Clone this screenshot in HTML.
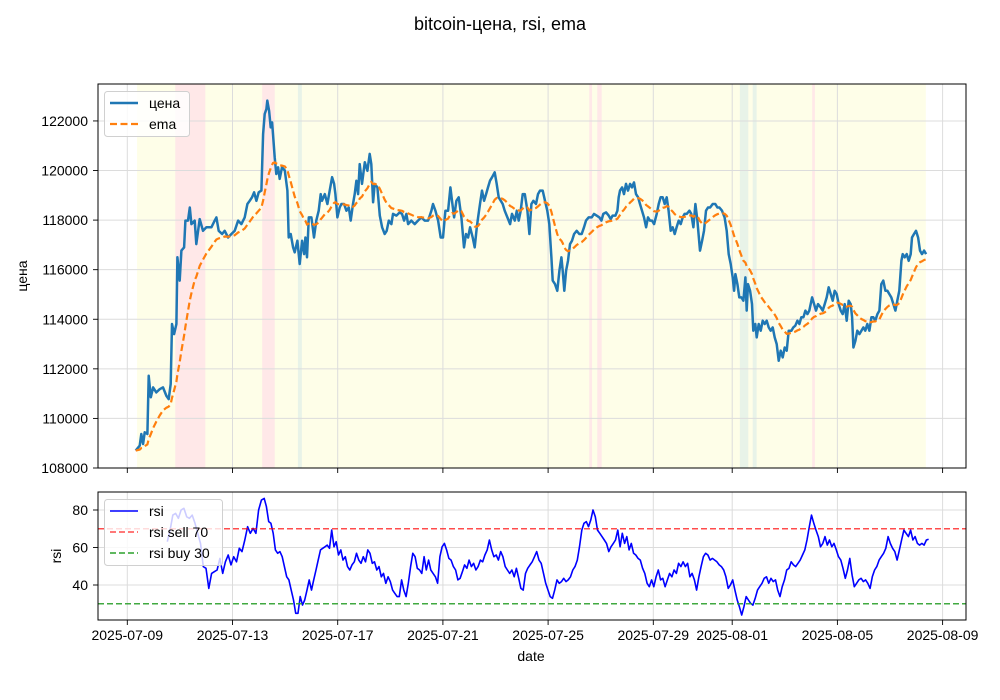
<!DOCTYPE html>
<html><head><meta charset="utf-8"><style>
html,body{margin:0;padding:0;background:#fff;}
svg{display:block;font-family:"Liberation Sans","DejaVu Sans",sans-serif;}
</style></head><body>
<svg id="fig" width="1000" height="700" viewBox="0 0 1000 700" xmlns="http://www.w3.org/2000/svg">
<defs>
<clipPath id="c1"><rect x="98" y="84" width="868" height="384"/></clipPath>
<clipPath id="c2"><rect x="98" y="492" width="868" height="128"/></clipPath>
</defs>
<text x="500" y="30" font-size="18" text-anchor="middle">bitcoin-цена, rsi, ema</text>
<g id="topPanel"></g>
<g id="botPanel"></g>
<text x="27" y="276" font-size="14" text-anchor="middle" transform="rotate(-90 27 276)">цена</text>
<text x="61" y="556" font-size="14" text-anchor="middle" transform="rotate(-90 61 556)">rsi</text>
<text x="531" y="661" font-size="14" text-anchor="middle">date</text>
</svg>
<script>
// hours since 2025-07-09 00:00
const priceHours=[7.7,11.3,12.8,14.4,15.9,18.3,19.5,21.4,23.5,26.5,29.6,32.6,35.7,37.8,39.6,40.8,42.7,44.8,45.7,47.8,49.4,51.8,53.0,55.4,57.0,58.5,61.5,63.0,66.1,69.1,72.2,76.7,79.8,81.3,83.4,86.5,88.9,92.0,95.0,98.0,101.1,104.1,107.1,109.6,111.7,113.8,115.7,117.8,119.9,122.4,123.9,125.4,126.9,127.8,129.4,130.9,132.1,133.0,134.5,136.0,137.6,139.1,141.2,143.7,146.1,147.3,149.1,151.3,152.8,155.2,157.3,159.5,161.3,162.5,164.0,165.6,168.0,170.4,172.5,174.7,176.5,177.7,180.2,182.6,184.7,186.9,188.7,189.9,191.7,193.8,195.4,197.8,199.9,202.1,203.9,206.0,207.5,209.1,210.6,212.1,214.2,216.7,219.1,221.2,222.7,224.3,225.8,228.2,230.4,232.5,234.9,236.7,238.6,241.0,242.5,245.6,248.6,250.7,252.6,254.7,256.2,259.2,262.3,265.3,268.4,271.4,274.5,277.5,279.0,281.2,283.6,286.0,288.1,290.3,292.7,294.8,296.3,298.2,300.3,302.4,304.9,307.3,309.1,311.0,312.8,315.2,317.0,318.9,320.1,321.9,323.7,325.6,327.4,329.2,331.0,332.9,335.3,337.1,338.9,340.8,342.6,344.4,346.9,349.3,351.1,353.6,355.4,357.2,359.0,360.8,362.7,365.1,366.9,368.8,370.6,373.0,374.8,
376.6,379.1,381.2,383.3,385.1,387.0,388.2,390.3,392.4,394.3,396.1,397.3,398.8,400.4,402.2,404.0,405.8,407.7,410.1,412.5,414.7,416.8,418.6,421.0,423.8,425.9,428.3,430.8,432.6,434.4,436.9,439.3,441.1,442.9,445.4,447.2,448.4,449.6,451.5,453.3,455.1,456.9,458.8,460.6,462.4,464.2,466.1,467.9,469.7,471.5,473.4,475.2,477.0,478.8,480.7,483.1,484.9,486.7,488.6,490.4,492.2,494.0,495.9,497.7,499.5,501.3,503.2,505.0,506.8,508.6,510.5,512.9,514.7,516.6,518.4,520.2,522.6,524.5,526.3,528.1,529.9,531.8,534.2,536.6,538.5,540.3,542.7,545.1,547.0,548.8,550.6,552.5,553.7,554.9,556.7,558.5,560.4,562.2,564.0,565.2,566.4,568.3,570.1,571.3,573.1,574.4,576.2,578.0,579.8,581.7,583.5,585.3,587.1,589.0,590.8,592.6,594.4,596.3,598.1,599.9,601.7,603.6,606.0,607.8,609.6,611.5,613.3,615.1,617.0,618.8,620.6,622.4,624.9,626.7,628.5,630.3,632.8,634.6,636.4,638.2,640.1,641.9,643.7,645.5,647.4,649.2,651.0,652.8,654.7,656.5,658.3,660.1,661.4,662.6,664.4,666.2,668.1,669.9,671.7,673.5,675.3,677.2,679.0,680.8,682.6,684.5,686.3,688.1,689.9,691.8,693.6,695.4,697.2,699.1,700.9,702.7,704.5,706.4,707.6,709.4,711.2,713.1,714.9,716.1,717.9,719.7,721.6,723.4,725.2,727.1,728.9];
const priceValues=[108700,108900,109370,108970,109440,109370,111720,110850,111250,111050,111180,111250,110910,110780,111390,113810,113400,113810,116500,115560,116770,116900,117980,117980,118510,117840,117980,117030,118040,117570,117710,117710,117980,118110,117570,117440,117570,117300,117440,117570,117980,117840,118110,118650,118780,118920,119120,118780,119120,119190,121470,122280,122480,122820,122410,121740,121940,121470,120530,119860,120130,119660,120130,120000,119190,117300,117440,116900,116700,117170,116230,117170,116630,117300,116500,118110,118110,117300,117980,118380,119050,118780,119050,118650,119190,119730,119460,119050,118110,118510,118650,118650,118380,118510,117980,118650,119050,119590,119050,120260,119460,120330,119990,120670,120260,118720,119460,119320,118180,117710,117440,117570,117980,117840,118250,118180,118310,118250,117980,118250,117840,117980,117840,117980,118110,117980,117980,118380,118650,118380,117980,117300,117300,118380,118380,119320,118780,118110,118780,118920,118110,116900,117440,117300,117710,117300,116900,117710,118110,118650,119190,118780,119050,119320,119590,119730,119930,119460,118920,118780,118650,118380,118110,117840,118250,117980,118380,117980,118380,119050,119050,118380,117440,118650,118780,118650,119050,
119190,119190,118780,118380,117840,116500,115560,115420,115150,115960,116500,115960,115150,115960,116360,117030,117170,117440,117570,117440,117440,117710,117980,118110,118110,118250,118180,118110,117980,118250,118310,118180,118040,118180,118180,118380,118920,119190,119320,119050,119460,119190,119460,119320,119520,119050,118920,118650,118380,118110,117710,118110,117980,117980,117840,118250,118650,118920,118920,118650,118920,118380,117570,117710,117440,117710,117980,117840,118110,118250,118250,118380,118250,117710,118650,117980,116770,117170,117570,118380,118510,118510,118650,118650,118510,118510,118380,118110,117570,116630,116230,115690,115150,115820,115420,114880,114880,114750,115690,114350,115420,115150,114610,113540,113810,113270,113810,113540,113940,113810,113940,113670,113540,113670,113270,113000,112330,112730,112460,112860,112730,113540,113540,113670,113740,113940,113810,114080,114080,114350,114210,114350,114880,114610,114350,114610,114480,114350,114610,114880,115290,115020,114750,115150,115020,114610,114350,114210,114610,113940,114750,114610,114080,112860,113130,113540,113400,113540,113670,113540,113810,113540,114080,114080,113940,114210,114350,115420,115560,115150,115150,115020,114880,114610,114350,114750,115150,116360,116630,116500,116630,116360,116630,117300,117440,117570,117300,116770,116630,116770,116630];
const rsiValues=[63.1,69.3,77.3,78.2,75.6,80.0,80.9,76.4,75.6,77.3,72.9,67.6,62.2,49.8,48.9,38.2,46.2,47.1,48.0,54.2,46.2,52.4,56.0,50.7,55.1,52.4,59.6,57.8,64.0,71.1,67.6,70.2,67.6,80.0,85.3,86.2,81.8,73.8,72.9,67.6,58.7,56.9,57.8,55.1,49.8,44.4,42.7,37.3,32.0,24.9,24.9,33.8,29.3,32.0,37.3,42.7,37.3,42.7,48.0,53.3,58.7,59.6,60.4,61.3,59.6,69.3,60.4,63.1,56.0,58.7,53.3,55.1,49.8,48.0,50.7,52.4,56.9,53.3,51.6,55.1,52.4,58.7,56.9,51.6,52.4,48.0,49.8,44.4,46.2,40.9,44.4,41.8,37.3,35.6,33.8,33.8,42.7,37.3,33.8,40.9,49.8,56.9,55.1,48.9,48.0,46.2,55.1,48.0,53.3,48.0,46.2,44.4,40.9,55.1,60.4,62.2,58.7,54.2,53.3,49.8,48.0,42.7,43.6,47.1,50.7,48.9,53.3,49.8,51.6,48.0,49.8,53.3,52.4,56.0,58.7,64.0,58.7,55.1,56.0,53.3,57.8,55.1,49.8,48.0,46.2,48.0,44.4,48.9,43.6,38.2,37.3,46.2,48.9,50.7,52.4,55.1,57.8,53.3,51.6,46.2,40.9,37.3,33.8,32.9,37.3,42.7,40.9,41.8,43.6,41.8,42.7,44.4,48.0,49.8,53.3,60.4,69.3,72.9,73.8,71.1,74.7,80.0,76.4,69.3,67.6,65.8,64.0,62.2,57.8,60.4,62.2,64.0,69.3,60.4,67.6,62.2,65.8,58.7,62.2,56.9,56.0,54.2,53.3,48.9,46.2,40.9,39.1,42.7,39.1,44.4,48.0,42.7,43.6,39.1,42.7,46.2,44.4,48.0,46.2,51.6,49.8,52.4,49.8,51.6,44.4,46.2,42.7,37.3,44.4,49.8,55.1,56.9,56.0,53.3,54.2,53.3,52.4,50.7,49.8,48.0,44.4,38.2,40.0,42.7,37.3,32.0,28.4,24.0,28.4,33.8,32.0,30.2,29.3,32.9,37.3,39.1,40.9,43.6,44.4,40.9,43.6,41.8,42.7,37.3,33.8,39.1,42.7,48.0,48.9,52.4,50.7,49.8,51.6,53.3,56.0,58.7,64.0,71.1,77.3,72.9,69.3,65.8,60.4,62.2,65.8,61.3,64.0,60.4,62.2,58.7,55.1,53.3,48.9,43.6,48.0,54.2,45.3,39.1,40.9,42.7,43.6,41.8,42.7,40.9,38.2,44.4,48.0,49.8,53.3,55.1,56.9,59.6,65.8,62.2,59.6,57.8,53.3,58.7,64.0,69.3,67.6,65.8,69.3,64.0,65.8,62.2,61.3,62.2,61.3,64.0,64.4];
// sample index -> hour knots for rsi series
const rsiIndexKnots=[0,35,329];
const rsiHourKnots=[36.5,124.9,729.2];
const yTicks=[108000,110000,112000,114000,116000,118000,120000,122000];
const rsiTicks=[40,60,80];
const xTickDays=[0,4,8,12,16,20,23,27,31];
const xTickLabels=["2025-07-09","2025-07-13","2025-07-17","2025-07-21","2025-07-25","2025-07-29","2025-08-01","2025-08-05","2025-08-09"];
const bgSpan=[8.9,728.7];
const redSpans=[[43.8,71.2],[123.1,134.5],[421.6,424.1],[428.9,432.9],[625,627.5]];
const greenSpans=[[155.7,159.3],[559,566.7],[570.7,574.3]];
const emaTau=15;
const rsiSell=70, rsiBuy=30;

const NS="http://www.w3.org/2000/svg";
function X(h){return 127.3+h/24*26.3;}
function Y(v){return 468-(v-108000)*0.02479;}
function YR(r){return 510+(80-r)*1.875;}
function rsiHour(i){for(let k=1;k<rsiIndexKnots.length;k++){if(i<=rsiIndexKnots[k]||k==rsiIndexKnots.length-1){const a=rsiIndexKnots[k-1],b=rsiIndexKnots[k];return rsiHourKnots[k-1]+(i-a)/(b-a)*(rsiHourKnots[k]-rsiHourKnots[k-1]);}}}
function mk(tag,attrs,parent){const e=document.createElementNS(NS,tag);for(const k in attrs)e.setAttribute(k,attrs[k]);parent.appendChild(e);return e;}
const topG=document.getElementById('topPanel'), botG=document.getElementById('botPanel');

function panel(g,y0,h,clip,spans){
  const bg=mk('g',{'clip-path':'url(#'+clip+')'},g);
  if(spans){
    const ys=mk('rect',{x:X(bgSpan[0]),y:y0,width:X(bgSpan[1])-X(bgSpan[0]),height:h,fill:'#fefee8'},bg);
    
    redSpans.forEach(s=>{const r=mk('rect',{x:X(s[0]),y:y0,width:X(s[1])-X(s[0]),height:h,fill:'#ffe8e8'},bg);
      });
    greenSpans.forEach(s=>{const r=mk('rect',{x:X(s[0]),y:y0,width:X(s[1])-X(s[0]),height:h,fill:'#e8f3e8'},bg);
      });
  }
  xTickDays.forEach((d,i)=>{const x=X(d*24);
    const gl=mk('line',{x1:x,x2:x,y1:y0,y2:y0+h,stroke:'#dcdcdc','stroke-width':1},g);
    
    const t=mk('line',{x1:x,x2:x,y1:y0+h,y2:y0+h+5,stroke:'#000','stroke-width':0.9},g);
    
  });
}
panel(topG,84,384,'c1',true);
panel(botG,492,128,'c2',false);

yTicks.forEach(v=>{const y=Y(v);
  const gl=mk('line',{x1:98,x2:966,y1:y,y2:y,stroke:'#dcdcdc','stroke-width':1},topG);
  
  const t=mk('line',{x1:93,x2:98,y1:y,y2:y,stroke:'#000','stroke-width':0.9},topG);
  
  const tx=mk('text',{x:88,y:y+5,'font-size':14,'text-anchor':'end'},topG);tx.textContent=v;
  
});
rsiTicks.forEach(v=>{const y=YR(v);
  const gl=mk('line',{x1:98,x2:966,y1:y,y2:y,stroke:'#dcdcdc','stroke-width':1},botG);
  
  const t=mk('line',{x1:93,x2:98,y1:y,y2:y,stroke:'#000','stroke-width':0.9},botG);
  
  const tx=mk('text',{x:88,y:y+5,'font-size':14,'text-anchor':'end'},botG);tx.textContent=v;
  
});
xTickDays.forEach((d,i)=>{
  const tx=mk('text',{x:X(d*24),y:640,'font-size':14,'text-anchor':'middle'},botG);tx.textContent=xTickLabels[i];
  
});

// price line
const pc=mk('g',{'clip-path':'url(#c1)'},topG);
let d='';priceValues.forEach((v,i)=>{d+=(i?'L':'M')+X(priceHours[i]).toFixed(1)+' '+Y(v).toFixed(1);});
const pl=mk('path',{d:d,fill:'none',stroke:'#1f77b4','stroke-width':2.5,'stroke-linejoin':'round'},pc);

// ema (time-aware exponential moving average of price)
let e=priceValues[0];d='';
priceValues.forEach((v,i)=>{if(i){const dt=priceHours[i]-priceHours[i-1];const a=1-Math.exp(-dt/emaTau);e=e+a*(v-e);}
  d+=(i?'L':'M')+X(priceHours[i]).toFixed(1)+' '+Y(e).toFixed(1);});
const el=mk('path',{d:d,fill:'none',stroke:'#ff7f0e','stroke-width':2.2,'stroke-dasharray':'7,3.5'},pc);


// rsi
const rc=mk('g',{'clip-path':'url(#c2)'},botG);
d='';
rsiValues.forEach((v,i)=>{d+=(i?'L':'M')+X(rsiHour(i)).toFixed(1)+' '+YR(v).toFixed(1);});
const rl=mk('path',{d:d,fill:'none',stroke:'#0000ff','stroke-width':1.6,'stroke-linejoin':'round'},rc);

const sl=mk('line',{x1:98,x2:966,y1:YR(rsiSell),y2:YR(rsiSell),stroke:'#ff0000','stroke-opacity':0.7,'stroke-width':1.6,'stroke-dasharray':'6,3'},rc);

const bl=mk('line',{x1:98,x2:966,y1:YR(rsiBuy),y2:YR(rsiBuy),stroke:'#2ca02c','stroke-opacity':0.9,'stroke-width':1.6,'stroke-dasharray':'6,3'},rc);


// frames
const f1=mk('rect',{x:98,y:84,width:868,height:384,fill:'none',stroke:'#000','stroke-width':1},topG);

const f2=mk('rect',{x:98,y:492,width:868,height:128,fill:'none',stroke:'#000','stroke-width':1},botG);


// legends
const lg1=mk('g',{},topG);

mk('rect',{x:104.5,y:91.5,width:85,height:45,rx:3,fill:'#fff','fill-opacity':0.8,stroke:'#d0d0d0'},lg1);
mk('line',{x1:110,x2:138,y1:103,y2:103,stroke:'#1f77b4','stroke-width':2.5},lg1);
mk('line',{x1:110,x2:138,y1:124,y2:124,stroke:'#ff7f0e','stroke-width':2.2,'stroke-dasharray':'7,3.5'},lg1);
let t=mk('text',{x:149,y:108,'font-size':14},lg1);t.textContent='цена';

t=mk('text',{x:149,y:129,'font-size':14},lg1);t.textContent='ema';


const lg2=mk('g',{},botG);

mk('rect',{x:104.5,y:499.5,width:118,height:66,rx:3,fill:'#fff','fill-opacity':0.8,stroke:'#d0d0d0'},lg2);
mk('line',{x1:110,x2:138,y1:511,y2:511,stroke:'#0000ff','stroke-width':1.6},lg2);
mk('line',{x1:110,x2:138,y1:532,y2:532,stroke:'#ff0000','stroke-opacity':0.7,'stroke-width':1.6,'stroke-dasharray':'6,3'},lg2);
mk('line',{x1:110,x2:138,y1:553,y2:553,stroke:'#2ca02c','stroke-width':1.6,'stroke-dasharray':'6,3'},lg2);
t=mk('text',{x:149,y:516,'font-size':14},lg2);t.textContent='rsi';

t=mk('text',{x:149,y:537,'font-size':14},lg2);t.textContent='rsi sell 70';

t=mk('text',{x:149,y:558,'font-size':14},lg2);t.textContent='rsi buy 30';

</script>
</body></html>
